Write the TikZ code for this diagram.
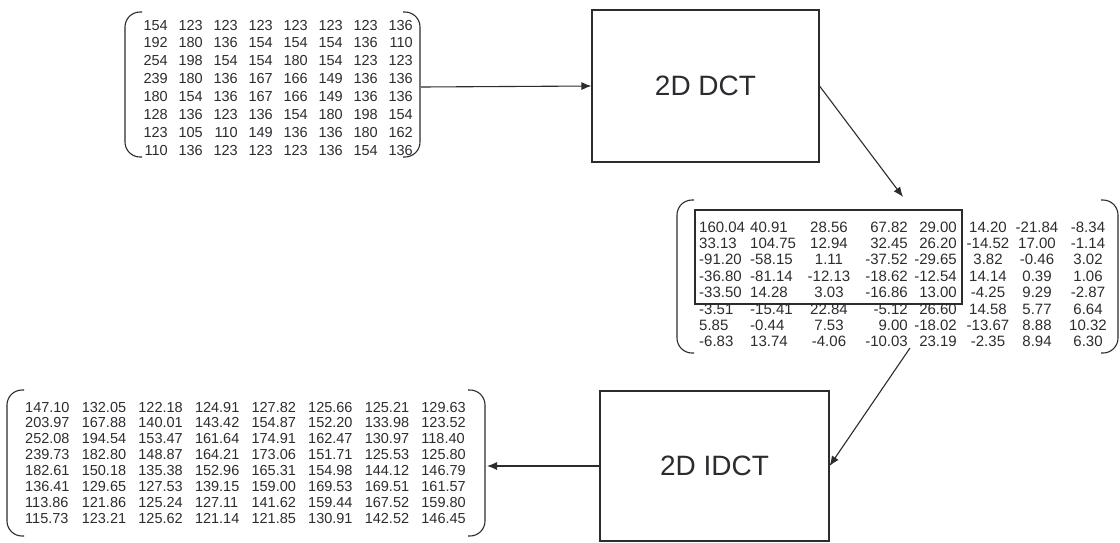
\documentclass[tikz,border=0pt]{standalone}
\usepackage{fontspec}
\setmainfont{Liberation Sans}
\usetikzlibrary{arrows.meta}
\definecolor{ink}{RGB}{45,42,48}

\begin{document}
\begin{tikzpicture}[x=1pt,y=-1pt,
    num/.style={inner sep=0pt,text=ink,text height=10pt,text depth=0pt,font=\fontsize{14.5}{14.5}\selectfont},
    procbox/.style={draw=ink,line width=1.1pt,text=ink,inner sep=0pt,font=\fontsize{28}{28}\selectfont},
    paren/.style={draw=ink,line width=1.1pt,rounded corners=15pt},
    flow/.style={draw=ink,line width=1.1pt,-{Latex[length=10pt,width=8pt]}}]
    \useasboundingbox (0,0) rectangle (1120,542);

    % transform blocks
    \node[procbox,minimum width=227pt,minimum height=152pt] (dct) at (705.5,86) {2D DCT};
    \node[procbox,minimum width=229pt,minimum height=150pt] (idct) at (714.5,466) {2D IDCT};

    % input block
    \draw[paren] (142,12) -- (125,12) -- (125,157) -- (142,157);
    \draw[paren] (403,12) -- (420,12) -- (420,157) -- (403,157);
    \foreach \row [count=\r from 0] in {{154,123,123,123,123,123,123,136},{192,180,136,154,154,154,136,110},
        {254,198,154,154,180,154,123,123},{239,180,136,167,166,149,136,136},{180,154,136,167,166,149,136,136},
        {128,136,123,136,154,180,198,154},{123,105,110,149,136,136,180,162},{110,136,123,123,123,136,154,136}}
        \foreach \v [count=\k from 0] in \row
            \node[num,anchor=east] (in-\r-\k) at ({168+35*\k},{25+17.9*\r}) {\v};

    % coefficients
    \draw[paren] (694,200) -- (677,200) -- (677,353) -- (694,353);
    \draw[paren] (1101,200) -- (1118,200) -- (1118,353) -- (1101,353);
    \draw[ink,line width=1.1pt] (695,210) rectangle (962,304);
    \foreach \row [count=\r from 0] in {{160.04,40.91,28.56,67.82,29.00,14.20,-21.84,-8.34},
        {33.13,104.75,12.94,32.45,26.20,-14.52,17.00,-1.14},{-91.20,-58.15,1.11,-37.52,-29.65,3.82,-0.46,3.02},
        {-36.80,-81.14,-12.13,-18.62,-12.54,14.14,0.39,1.06},{-33.50,14.28,3.03,-16.86,13.00,-4.25,9.29,-2.87},
        {-3.51,-15.41,22.84,-5.12,26.60,14.58,5.77,6.64},{5.85,-0.44,7.53,9.00,-18.02,-13.67,8.88,10.32},
        {-6.83,13.74,-4.06,-10.03,23.19,-2.35,8.94,6.30}}
        \foreach \v [count=\k from 0] in \row {
            \pgfmathsetmacro\cx{{699,750,829,908,957,988,1037,1088}[\k]}
            \pgfmathparse{{"west","west","center","east","east","center","center","center"}[\k]}
            \let\an\pgfmathresult
            \node[num,font=\fontsize{15}{15}\selectfont,anchor=\an] (co-\r-\k) at (\cx,{227+16.4*\r}) {\v};
        }

    % reconstructed block
    \draw[paren] (24,390) -- (7,390) -- (7,536) -- (24,536);
    \draw[paren] (468,390) -- (485,390) -- (485,536) -- (468,536);
    \foreach \row [count=\r from 0] in {{147.10,132.05,122.18,124.91,127.82,125.66,125.21,129.63},
        {203.97,167.88,140.01,143.42,154.87,152.20,133.98,123.52},{252.08,194.54,153.47,161.64,174.91,162.47,130.97,118.40},
        {239.73,182.80,148.87,164.21,173.06,151.71,125.53,125.80},{182.61,150.18,135.38,152.96,165.31,154.98,144.12,146.79},
        {136.41,129.65,127.53,139.15,159.00,169.53,169.51,161.57},{113.86,121.86,125.24,127.11,141.62,159.44,167.52,159.80},
        {115.73,123.21,125.62,121.14,121.85,130.91,142.52,146.45}}
        \foreach \v [count=\k from 0] in \row
            \node[num,anchor=west] (out-\r-\k) at ({25+56.6*\k},{407+15.9*\r}) {\v};

    % arrows
    \coordinate (inR) at (421,87);
    \coordinate (coTop) at (903,197);
    \coordinate (coBot) at (910,348);
    \coordinate (outR) at (487,466);
    \draw[flow] (inR) -- (dct.west);
    \draw[flow] (dct.east) -- (coTop);
    \draw[flow] (coBot) -- (idct.east);
    \draw[flow] (idct.west) -- (outR);
\end{tikzpicture}
\end{document}
